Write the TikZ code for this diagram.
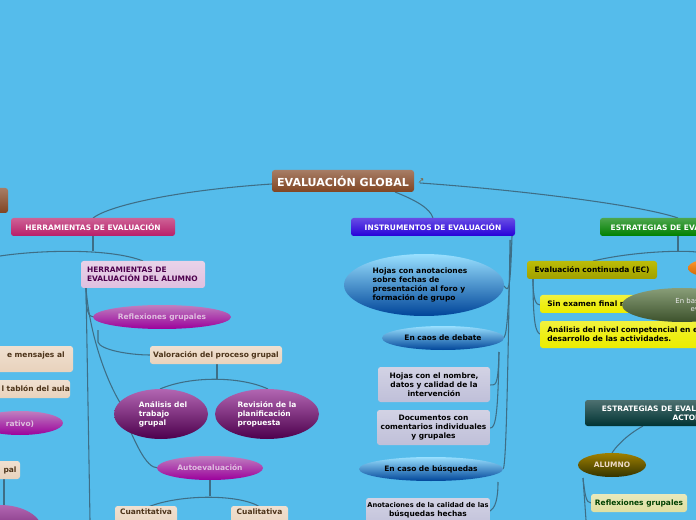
\documentclass[tikz,border=0pt]{standalone}
\usepackage{fontspec}
\setmainfont{DejaVu Sans}
\usetikzlibrary{shapes.geometric}
\definecolor{bg}{HTML}{55BCEB}
\definecolor{ln}{HTML}{3E6E86}
\definecolor{crim}{HTML}{B81E68}
\definecolor{dgreen}{HTML}{56743E}
\tikzset{
 x=0.75pt,y=-0.75pt,
 conn/.style={draw=ln,line width=0.8pt},
 bx/.style={rounded corners=2pt,inner sep=0pt,font=\bfseries\fontsize{5.6}{6.8}\selectfont,align=center},
 el/.style={ellipse,inner sep=0pt,font=\bfseries\fontsize{5.6}{6.8}\selectfont,align=left},
}
\newcommand{\gbox}[7]{% name, x1,y1,x2,y2, color, text
 \shade[rounded corners=2pt,top color=#6!70!white,bottom color=#6] (#2,#3) rectangle (#4,#5);
 \node[bx,minimum width={(#4-#2)*0.75pt},minimum height={(#5-#3)*0.75pt}] (#1) at ({(#2+#4)/2},{(#3+#5)/2}) {#7};}
\begin{document}
\begin{tikzpicture}
\useasboundingbox (0,0) rectangle (696,520);
\clip (0,0) rectangle (696,520);
\fill[bg] (0,0) rectangle (696,520);
% connectors
\draw[conn] (272,184) .. controls (180,190) and (110,205) .. (93,218);
\draw[conn] (395,192) .. controls (415,200) and (430,208) .. (433,218);
\draw[conn] (420,183) .. controls (520,190) and (640,205) .. (678,218);
\draw[conn] (93,236) -- (93,251);
\draw[conn] (0,256) .. controls (40,250) and (110,248) .. (143,261);
\draw[conn] (86,288) .. controls (86,320) and (90,316) .. (97,317);
\draw[conn] (98,330) -- (98,342) .. controls (100,350) and (130,355) .. (150,355);
\draw[conn] (86,288) .. controls (90,340) and (110,390) .. (125,410);
\draw[conn] (125,420) .. controls (135,440) and (145,468) .. (158,468);
\draw[conn] (86,288) -- (90,520);
\draw[conn] (217,364) -- (217,379);
\draw[conn] (160,389) .. controls (190,376) and (240,376) .. (268,389);
\draw[conn] (210,480) -- (210,496);
\draw[conn] (148,507) .. controls (180,494) and (240,494) .. (260,507);
\draw[conn] (4,467) -- (4,512);
% instrumentos connectors
\draw[conn] (512,236) .. controls (510,300) and (508,290) .. (503,285);
\draw[conn] (511,240) .. controls (508,330) and (506,337) .. (503,338);
\draw[conn] (510,240) .. controls (507,440) and (505,468) .. (503,469);
\draw[conn] (499,352) .. controls (498,390) and (495,384) .. (490,385);
\draw[conn] (499,352) .. controls (498,420) and (495,428) .. (490,428);
\draw[conn] (498,482) .. controls (498,500) and (495,508) .. (490,511);
% estrategias connectors
\draw[conn] (678,236) -- (678,251);
\draw[conn] (593,261) .. controls (630,252) and (680,250) .. (696,252);
\draw[conn] (533,279) .. controls (533,300) and (536,305) .. (540,305);
\draw[conn] (533,279) .. controls (533,325) and (536,332) .. (540,334);
\draw[conn] (643,426) .. controls (625,436) and (615,448) .. (612,453);
\draw[conn] (583,478) .. controls (585,495) and (586,503) .. (591,503);
\draw[conn] (583,478) -- (586,520);
% nodes
\gbox{glob}{272}{170}{414}{192}{brown!60!black!90!red}{\color{white}\fontsize{8.3}{9}\selectfont EVALUACIÓN GLOBAL}
\node[font=\fontsize{6}{6}\selectfont,text=brown!70!black] (ico) at (421,181) {\symbol{"2197}};
\gbox{lc}{-10}{188}{8}{213}{brown!60!black!90!red}{}
\gbox{herr}{11}{218}{175}{236}{crim}{\color{white}HERRAMIENTAS DE EVALUACIÓN}
\gbox{ha}{81}{261}{205}{288}{violet!25!white}{\color{violet!60!black}\parbox{84pt}{\raggedright HERRAMIENTAS DE\\EVALUACIÓN DEL ALUMNO}}
\shade[top color=violet!50!white,bottom color=violet!70!black!60!magenta] (162,317) ellipse (69 and 12);
\node[el,text=violet!25!white] (rg) at (162,317) {Reflexiones grupales};
\gbox{vp}{150}{346}{282}{364}{brown!35!white}{\color{brown!40!black}Valoración del proceso grupal}
\shade[top color=violet!60!white,bottom color=violet!60!black] (161,414) ellipse (47 and 25);
\node[el,text=white] (atg) at (163,414) {Análisis del\\trabajo\\grupal};
\shade[top color=violet!60!white,bottom color=violet!60!black] (267,414) ellipse (52 and 25);
\node[el,text=white] (rpp) at (267,414) {Revisión de la\\planificación\\propuesta};
\shade[top color=violet!50!white,bottom color=violet!70!black!60!magenta] (210,468) ellipse (53 and 12);
\node[el,text=violet!25!white] (auto) at (210,468) {Autoevaluación};
\gbox{cuan}{115}{506}{177}{530}{brown!35!white}{\color{brown!40!black}\raisebox{9pt}{Cuantitativa}}
\gbox{cual}{231}{506}{288}{530}{brown!35!white}{\color{brown!40!black}\raisebox{9pt}{Cualitativa}}
\gbox{lm}{-60}{346}{73}{372}{brown!35!white}{\color{brown!40!black}\hspace*{44pt}e mensajes al\\ \mbox{}}
\gbox{lt}{-60}{380}{70}{398}{brown!35!white}{\color{brown!40!black}\hspace*{46pt}l tablón del aula}
\shade[top color=violet!50!white,bottom color=violet!70!black!60!magenta] (20,423) ellipse (43 and 12);
\node[el,text=violet!25!white] (rat) at (20,424) {rativo)};
\gbox{lp}{-40}{461}{20}{479}{brown!35!white}{\color{brown!40!black}\hspace*{30pt}pal}
\shade[top color=violet!60!white,bottom color=violet!60!black] (0,530) ellipse (42 and 25);
% instrumentos
\gbox{inst}{351}{218}{515}{236}{blue!70!violet}{\color{white}INSTRUMENTOS DE EVALUACIÓN}
\shade[top color=blue!30!cyan!40!white,bottom color=blue!55!cyan!60!black] (424,285) ellipse (80 and 31);
\node[el] (hoj) at (420,285) {Hojas con anotaciones\\sobre fechas de\\presentación al foro y\\formación de grupo};
\shade[top color=blue!30!cyan!40!white,bottom color=blue!55!cyan!60!black] (443,338) ellipse (61 and 12);
\node[el] (deb) at (443,338) {En caos de debate};
\gbox{hn}{378}{367}{490}{402}{blue!25!gray!40!white}{Hojas con el nombre,\\datos y calidad de la\\intervención}
\gbox{doc}{377}{410}{490}{445}{blue!25!gray!40!white}{Documentos con\\comentarios individuales\\y grupales}
\shade[top color=blue!30!cyan!40!white,bottom color=blue!55!cyan!60!black] (431,469) ellipse (72 and 12);
\node[el] (bus) at (431,469) {En caso de búsquedas};
\gbox{an}{366}{498}{490}{530}{blue!25!gray!40!white}{\fontsize{5}{6.3}\selectfont Anotaciones de la calidad de las\\búsquedas hechas\\ \mbox{}}
% estrategias
\gbox{est}{600}{218}{760}{236}{green!50!black}{\color{white}\parbox{112pt}{\hspace*{4pt}ESTRATEGIAS DE EVALUACIÓN}}
\gbox{ec}{527}{261}{657}{279}{olive!75!yellow}{Evaluación continuada (EC)}
\shade[top color=orange!80!white,bottom color=orange!80!black] (712,268) ellipse (24 and 9);
\gbox{sin}{540}{295}{720}{313}{yellow!85!olive}{\parbox{128pt}{\hspace*{2pt}Sin examen final ni}}
\gbox{anl}{540}{321}{720}{348}{yellow!85!olive}{\parbox{128pt}{\raggedright\hspace*{2pt}Análisis del nivel competencial en el\\\hspace*{2pt}desarrollo de las actividades.}}
\shade[top color=dgreen!70!white,bottom color=dgreen!70!black] (682,305) ellipse (60 and 17);
\node[font=\fontsize{5.2}{6.3}\selectfont,text=white!85!gray,align=center] (eb) at (700,305) {En base a una\\evalu};
\gbox{eact}{585}{400}{760}{426}{teal!40!black}{\color{white}\parbox{124pt}{\raggedright\hspace*{9pt}ESTRATEGIAS DE EVALUACIÓN DE\\\hspace*{62pt}ACTORES}}
\shade[top color=olive!50!brown,bottom color=olive!40!black] (612,465) ellipse (34 and 12);
\node[el,text=brown!30!white] (alu) at (612,465) {ALUMNO};
\gbox{rg2}{591}{494}{687}{512}{olive!25!white}{\color{green!25!black}Reflexiones grupales}
\end{tikzpicture}
\end{document}
